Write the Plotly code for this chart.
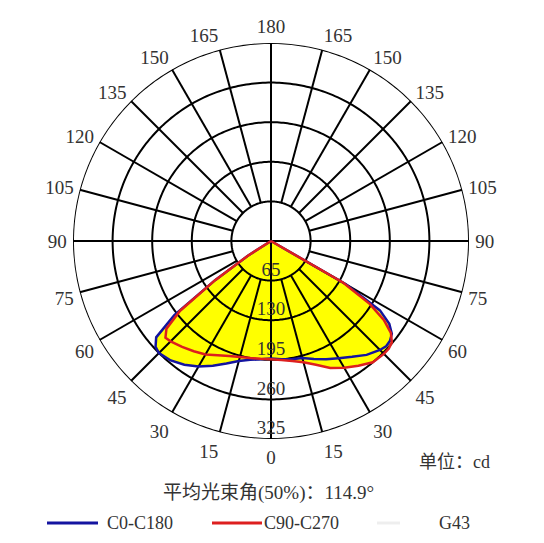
import numpy as np
import plotly.graph_objects as go

# gamma angles (deg from nadir) shared by every C-plane half
gamma = [0, 5, 10, 15, 20, 25, 30, 35, 40, 45, 47.5, 50, 52.5, 55, 57.5, 60, 62.5, 65, 70, 80, 90]

# luminous intensity in cd
c0 = [193, 195, 197, 199, 206, 214, 222, 232, 244, 253, 256, 255, 250, 237, 212, 142, 0, 0, 0, 0, 0]
c180 = [193, 195, 198, 204, 214, 226, 238, 248, 256, 260, 257, 246, 200, 112, 45, 0, 0, 0, 0, 0, 0]
c90 = [194, 196, 200, 206, 216, 230, 240, 250, 260, 262, 262, 259, 248, 226, 192, 137, 0, 0, 0, 0, 0]
c270 = [194, 194, 195, 197, 201, 207, 215, 221, 227, 233, 235, 224, 188, 112, 45, 0, 0, 0, 0, 0, 0]

radial_ticks = [65, 130, 195, 260, 325]
angle_ticks = list(range(0, 360, 15))
angle_labels = [str(min(a, 360 - a)) for a in angle_ticks]

series_names = ['C0-C180', 'C90-C270', 'G43']
series_colors = ['#1414a0', '#dd1f1f', '#eeeeee']

SERIF = "Liberation Serif, Noto Sans CJK SC, serif"
TXT = "#333333"


def full_curve(left, right):
    # left half drawn at negative theta, right half at positive theta
    theta = [-g for g in gamma[::-1]] + gamma
    r = left[::-1] + right
    return theta, r


fig = go.Figure()

# yellow fills
for left, right in [(c180, c0), (c270, c90)]:
    th, r = full_curve(left, right)
    fig.add_trace(go.Scatterpolar(r=r, theta=th, mode='lines', fill='toself',
                                  fillcolor='#ffff00', line=dict(width=0),
                                  showlegend=False, hoverinfo='skip'))

# grid: rings
ring_th, ring_r = [], []
circle = list(np.arange(0, 361, 1.0))
for rt in radial_ticks:
    ring_th += circle + [None]
    ring_r += [rt] * len(circle) + [None]
fig.add_trace(go.Scatterpolar(r=ring_r, theta=ring_th, mode='lines',
                              line=dict(color='black', width=2),
                              showlegend=False, hoverinfo='skip'))

# grid: spokes (main axes cross the centre, the others stop at the first ring)
sp_th, sp_r = [], []
for a in angle_ticks:
    start = 0 if a % 90 == 0 else radial_ticks[0]
    sp_th += [a, a, None]
    sp_r += [start, radial_ticks[-1], None]
fig.add_trace(go.Scatterpolar(r=sp_r, theta=sp_th, mode='lines',
                              line=dict(color='black', width=2),
                              showlegend=False, hoverinfo='skip'))

# curves
th, r = full_curve(c180, c0)
fig.add_trace(go.Scatterpolar(r=r, theta=th, mode='lines', name=series_names[0],
                              line=dict(color=series_colors[0], width=2.5), showlegend=False))
th, r = full_curve(c270, c90)
fig.add_trace(go.Scatterpolar(r=r, theta=th, mode='lines', name=series_names[1],
                              line=dict(color=series_colors[1], width=2.5), showlegend=False))

# radial labels along the 0 spoke
fig.add_trace(go.Scatterpolar(r=radial_ticks, theta=[0] * len(radial_ticks), mode='text',
                              text=[str(v) for v in radial_ticks], textposition='top center',
                              textfont=dict(family=SERIF, size=19, color=TXT),
                              showlegend=False, hoverinfo='skip'))

W, H = 544, 543
OFF = 8  # page body margin
cx, cy, rad = 271 - OFF, 241 - OFF, 198


def px(x):
    return (x - OFF) / W


def py(y):
    return 1 - (y - OFF) / H


# hand-made legend row like the original (long line samples)
shapes, annots = [], []
leg_y = 523
line_x = [(47, 98), (212, 262), (377, 400)]
text_x = [105, 262, 437]
for name, col, (x0, x1), tx in zip(series_names, series_colors, line_x, text_x):
    shapes.append(dict(type='line', xref='paper', yref='paper', x0=px(x0), x1=px(x1),
                       y0=py(leg_y), y1=py(leg_y), line=dict(color=col, width=3)))
    annots.append(dict(text=name, x=px(tx), y=py(leg_y), xref='paper', yref='paper',
                       xanchor='left', yanchor='middle', showarrow=False,
                       font=dict(family=SERIF, size=18, color=TXT)))

annots += [
    dict(text='单位：cd', x=px(454), y=py(462), xref='paper', yref='paper',
         xanchor='center', yanchor='middle', showarrow=False,
         font=dict(family=SERIF, size=18, color=TXT)),
    dict(text='平均光束角(50%)：114.9°', x=px(268), y=py(493), xref='paper', yref='paper',
         xanchor='center', yanchor='middle', showarrow=False,
         font=dict(family=SERIF, size=19, color=TXT)),
]

fig.update_layout(
    width=W, height=H,
    margin=dict(l=0, r=0, t=0, b=0),
    paper_bgcolor='white',
    font=dict(family=SERIF, size=19, color=TXT),
    polar=dict(
        domain=dict(x=[(cx - rad) / W, (cx + rad) / W],
                    y=[1 - (cy + rad) / H, 1 - (cy - rad) / H]),
        bgcolor='white',
        radialaxis=dict(range=[0, 325], showgrid=False, showline=False,
                        showticklabels=False, ticks=''),
        angularaxis=dict(rotation=270, direction='counterclockwise',
                         tickvals=angle_ticks, ticktext=angle_labels,
                         showgrid=False, showline=False,
                         ticks='outside', ticklen=2, tickcolor='rgba(0,0,0,0)',
                         tickfont=dict(family=SERIF, size=19, color=TXT)),
    ),
    showlegend=False,
    shapes=shapes,
    annotations=annots,
)

fig.write_html("out.html")
